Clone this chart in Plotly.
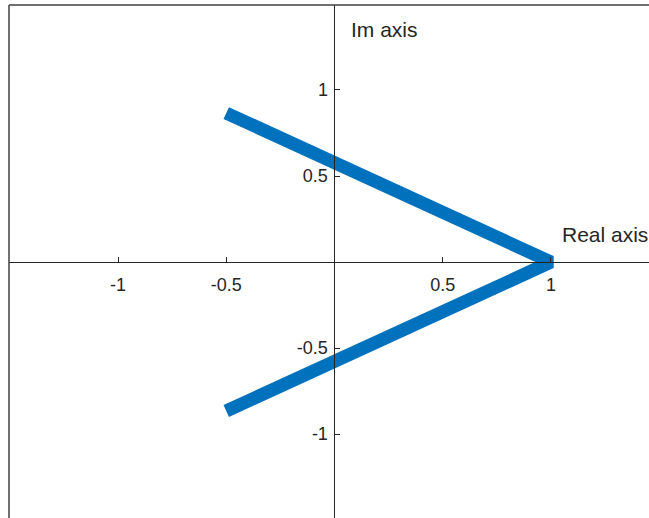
import plotly.graph_objects as go

# Data
x_vals = [-0.5, 1.0, -0.5]
y_vals = [0.866, 0.0, -0.866]
tick_vals = [-1, -0.5, 0.5, 1]
tick_text = ["-1", "-0.5", "0.5", "1"]
x_range = [-1.5035, 1.4527]
y_range = [-1.488, 1.494]

W, H = 649, 518
ML, MT = 9, 5

fig = go.Figure()
fig.add_trace(go.Scatter(x=x_vals, y=y_vals, mode="lines",
                         line=dict(color="#0072BD", width=13),
                         showlegend=False, hoverinfo="skip"))

x_pos = (0 - y_range[0]) / (y_range[1] - y_range[0])
y_pos = (0 - x_range[0]) / (x_range[1] - x_range[0])

font = "Liberation Sans, Arial, Helvetica, sans-serif"
axis_col = "#262626"

fig.update_layout(
    width=W, height=H,
    margin=dict(l=ML, r=0, t=MT, b=0, pad=0),
    paper_bgcolor="white", plot_bgcolor="white",
    xaxis=dict(range=x_range, anchor="free", position=x_pos, side="bottom",
               showgrid=False, zeroline=False, showline=True, linecolor=axis_col, linewidth=1,
               ticks="inside", ticklen=5, tickwidth=1, tickcolor=axis_col,
               tickvals=tick_vals, ticktext=tick_text, ticklabelstandoff=6,
               tickfont=dict(family=font, size=18, color=axis_col), automargin=False),
    yaxis=dict(range=y_range, anchor="free", position=y_pos, side="left",
               showgrid=False, zeroline=False, showline=True, linecolor=axis_col, linewidth=1,
               ticks="inside", ticklen=5, tickwidth=1, tickcolor=axis_col,
               tickvals=tick_vals, ticktext=tick_text, ticklabelstandoff=3,
               tickfont=dict(family=font, size=18, color=axis_col), automargin=False),
    shapes=[
        dict(type="line", xref="paper", yref="paper", x0=0, x1=0, y0=0, y1=1,
             line=dict(color="#404040", width=1.5)),
        dict(type="line", xref="paper", yref="paper", x0=0, x1=1, y0=1, y1=1,
             line=dict(color="#404040", width=1.5)),
    ],
    annotations=[
        dict(x=0.069, y=1.35, xref="x", yref="y", text="Im axis", showarrow=False,
             xanchor="left", yanchor="middle", font=dict(family=font, size=21, color=axis_col)),
        dict(x=1.04, y=0.158, xref="x", yref="y", text="Real axis", showarrow=False,
             xanchor="left", yanchor="middle", font=dict(family=font, size=21, color=axis_col)),
    ],
)

fig.write_html("out.html", config={"displayModeBar": False},
               post_script="document.body.style.margin='0';")
